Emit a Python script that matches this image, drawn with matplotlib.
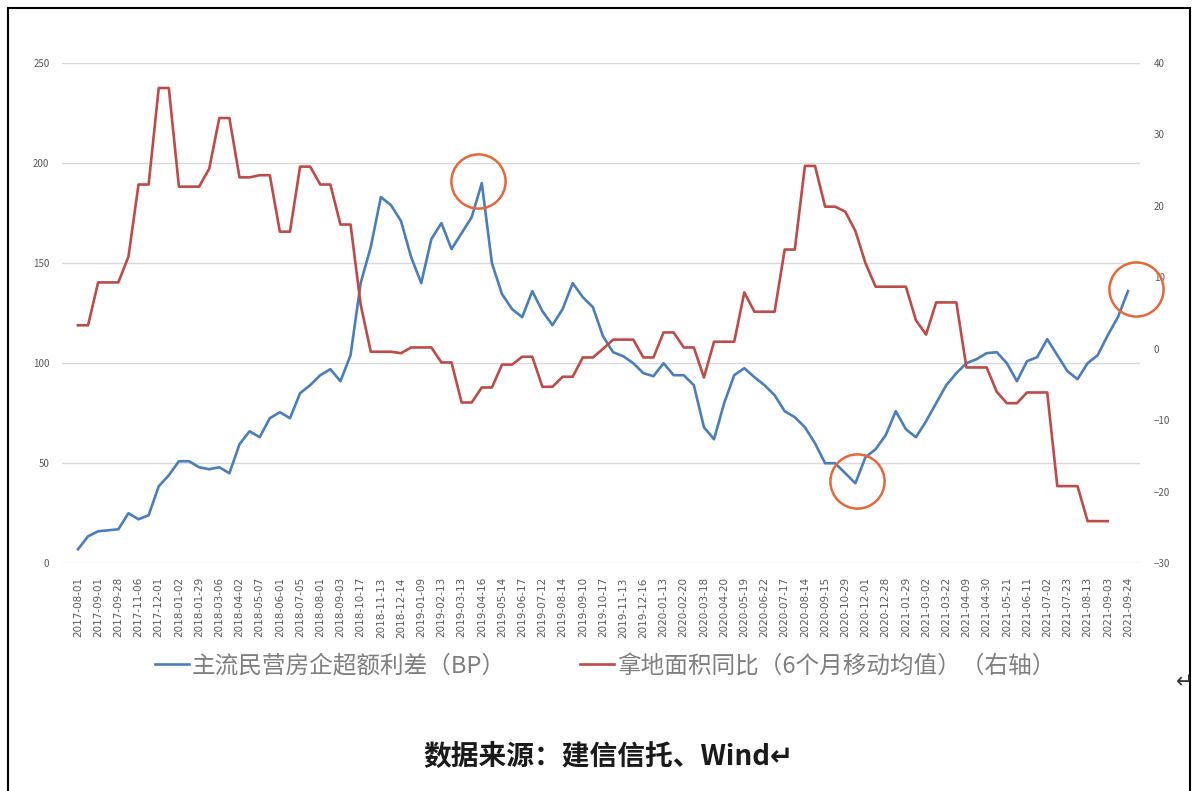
import numpy as np
import matplotlib
matplotlib.use('Agg')
import matplotlib.pyplot as plt
from matplotlib.patches import Rectangle
from matplotlib.transforms import offset_copy

plt.rcParams['font.family'] = ['Noto Sans CJK SC', 'DejaVu Sans']

# ---------------- data ----------------
tick_dates = [
    '2017-08-01', '2017-09-01', '2017-09-28', '2017-11-06', '2017-12-01',
    '2018-01-02', '2018-01-29', '2018-03-06', '2018-04-02', '2018-05-07', '2018-06-01',
    '2018-07-05', '2018-08-01', '2018-09-03', '2018-10-17', '2018-11-13', '2018-12-14',
    '2019-01-09', '2019-02-13', '2019-03-13', '2019-04-16', '2019-05-14', '2019-06-17',
    '2019-07-12', '2019-08-14', '2019-09-10', '2019-10-17', '2019-11-13', '2019-12-16',
    '2020-01-13', '2020-02-20', '2020-03-18', '2020-04-20', '2020-05-19', '2020-06-22',
    '2020-07-17', '2020-08-14', '2020-09-15', '2020-10-29', '2020-12-01', '2020-12-28',
    '2021-01-29', '2021-03-02', '2021-03-22', '2021-04-09', '2021-04-30', '2021-05-21',
    '2021-06-11', '2021-07-02', '2021-07-23', '2021-08-13', '2021-09-03', '2021-09-24',
]

# 主流民营房企超额利差（BP） - left axis
spread_bp = [
    7, 13.5, 16, 16.5, 17, 25, 22, 24, 38.5, 44,
    51, 51, 48, 47, 48, 45, 59.5, 66, 63, 72.5,
    75.5, 72.5, 85, 89, 94, 97, 91, 104, 140, 158,
    183, 179, 171, 153, 140, 162, 170, 157, 165, 173,
    190, 150, 134.5, 127, 123, 136, 126, 119, 127, 140,
    133, 128, 113.5, 105.5, 103.5, 100, 95, 93.5, 100, 94,
    94, 89, 68, 62, 80, 94, 97.5, 93, 89, 84,
    76, 73, 68, 60, 50, 50, 45, 40, 53, 57,
    64, 76, 67, 63, 71, 80, 89, 95, 100, 102,
    105, 105.5, 100, 91, 101, 103, 112, 104, 96, 92,
    100, 104, 114, 123, 136,
]

# 拿地面积同比（6个月移动均值） - right axis
land_yoy = [
    3.3, 3.3, 9.3, 9.3, 9.3, 12.9, 23, 23, 36.5, 36.5,
    22.7, 22.7, 22.7, 25.2, 32.3, 32.3, 24, 24, 24.3, 24.3,
    16.4, 16.4, 25.5, 25.5, 23, 23, 17.4, 17.4, 6.2, -0.4,
    -0.4, -0.4, -0.6, 0.2, 0.2, 0.2, -1.9, -1.9, -7.5, -7.5,
    -5.4, -5.4, -2.2, -2.2, -1.1, -1.1, -5.3, -5.3, -3.9, -3.9,
    -1.2, -1.2, 0.0, 1.3, 1.3, 1.3, -1.2, -1.2, 2.3, 2.3,
    0.2, 0.2, -4, 1, 1, 1, 7.9, 5.2, 5.2, 5.2,
    13.9, 13.9, 25.6, 25.6, 19.9, 19.9, 19.2, 16.5, 12, 8.7,
    8.7, 8.7, 8.7, 4, 2, 6.5, 6.5, 6.5, -2.6, -2.6,
    -2.6, -6, -7.6, -7.6, -6.1, -6.1, -6.1, -19.2, -19.2, -19.2,
    -24.1, -24.1, -24.1, np.nan, np.nan,
]

series_names = ['主流民营房企超额利差（BP）', '拿地面积同比（6个月移动均值）（右轴）']
source_note = '数据来源：建信信托、Wind↵'
highlight_idx = [40, 77, 104]   # points circled on the blue series

left_ticks = [0, 50, 100, 150, 200, 250]
right_ticks = [-30, -20, -10, 0, 10, 20, 30, 40]

# ---------------- styles ----------------
BLUE = '#4A7EBB'
RED = '#BE4B48'
CIRCLE = '#E4683A'
GRID = '#D9D9D9'
TICK = '#595959'
W, H = 1198, 791

fig = plt.figure(figsize=(W / 100, H / 100), dpi=100)
fig.patch.set_facecolor('white')

ax = fig.add_axes([62 / W, 1 - 563.3 / H, 1078 / W, 500.3 / H])
x = np.arange(len(spread_bp))
ax.set_xlim(-1.58, 105.19)
ax.set_ylim(0, 250)
ax.set_yticks(left_ticks)
ax.yaxis.grid(True, color=GRID, lw=1.0)
ax.set_axisbelow(True)
for s in ax.spines.values():
    s.set_visible(False)
ax.tick_params(axis='both', length=0)
ax.tick_params(axis='y', labelsize=7, labelcolor=TICK, pad=9)
ax.set_xticks(np.arange(0, len(spread_bp), 2))
ax.set_xticklabels(tick_dates, rotation=90, fontsize=7.5, color=TICK,
                   family=['DejaVu Sans'])
ax.tick_params(axis='x', pad=10)

l1, = ax.plot(x, spread_bp, color=BLUE, lw=1.9, solid_joinstyle='round')

ax2 = ax.twinx()
ax2.set_ylim(-30, 40)
ax2.set_yticks(right_ticks)
for s in ax2.spines.values():
    s.set_visible(False)
ax2.tick_params(axis='y', length=0, labelsize=7, labelcolor=TICK, pad=10)
l2, = ax2.plot(x, land_yoy, color=RED, lw=1.9, solid_joinstyle='round')

# circled highlights (hand-drawn markup, slightly off the exact points)
circle_shift_px = [(-4, 2), (2, 2), (8, 2)]
for i, (dx, dy) in zip(highlight_idx, circle_shift_px):
    tr = offset_copy(ax2.transData, fig=fig, x=dx, y=dy, units='dots')
    ax2.plot([i], [spread_bp[i]], linestyle='none', marker='o', ms=39,
             mfc='none', mec=CIRCLE, mew=1.8, zorder=5, clip_on=False,
             transform=offset_copy(ax.transData, fig=fig, x=dx, y=dy, units='dots'))

# legend entries (placed separately to match spacing)
for handle, name, xpix in [(l1, series_names[0], 155), (l2, series_names[1], 580)]:
    fig.legend([handle], [name], loc='center left',
               bbox_to_anchor=(xpix / W, 1 - 666 / H), frameon=False,
               borderpad=0, borderaxespad=0, handlelength=1.45,
               handletextpad=0.12, prop={'size': 17}, labelcolor='#7F7F7F')

fig.text(608 / W, 1 - 757 / H, source_note, ha='center', va='center',
         fontsize=20, fontweight='bold', color='#1A1A1A')
fig.text(1185 / W, 1 - 682 / H, '↵', ha='center', va='center', fontsize=15,
         color='#333333', family=['DejaVu Sans'])

# outer frame
fig.add_artist(Rectangle((8 / W, -0.05), (1190 - 8) / W, 1.05 - 8 / H,
                         transform=fig.transFigure, fill=False,
                         edgecolor='black', lw=1.5))

fig.savefig('out.png', dpi=100)
